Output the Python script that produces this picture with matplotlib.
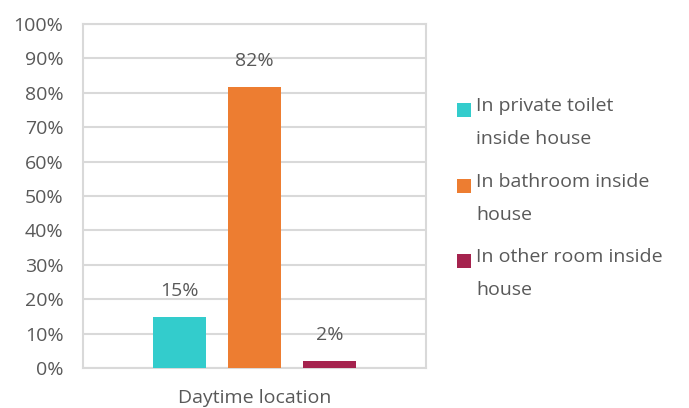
import matplotlib.pyplot as plt
from matplotlib.patches import Rectangle

# data
category = "Daytime location"
series = ["In private toilet\ninside house",
          "In bathroom inside\nhouse",
          "In other room inside\nhouse"]
values = [14.7, 81.6, 2.1]
colors = ["#33CCCC", "#ED7D31", "#A5234E"]
yticks = [0, 10, 20, 30, 40, 50, 60, 70, 80, 90, 100]

text_col = "#595959"
grid_col = "#D9D9D9"
fs = 14
plt.rcParams['font.family'] = ['Open Sans', 'DejaVu Sans']

W, H = 689, 408
fig = plt.figure(figsize=(W / 100, H / 100), dpi=100)
ax = fig.add_axes([83 / W, 1 - 368 / H, 343 / W, 344 / H])

pos = list(range(len(values)))
ax.bar(pos, values, width=0.71, color=colors, zorder=3)

for x, v in zip(pos, values):
    ax.annotate(f"{v:.0f}%", (x, v), xytext=(0, 26), textcoords='offset pixels',
                ha='center', va='center', fontsize=fs, color=text_col)

ax.set_xlim(-1.287, 3.287)
ax.set_ylim(0, 100)
ax.set_yticks(yticks)
ax.set_yticklabels([f"{t}%" for t in yticks])
ax.set_xticks([1])
ax.set_xticklabels([category])
ax.tick_params(length=0, labelsize=fs, labelcolor=text_col)
ax.tick_params(axis='y', pad=14)
ax.tick_params(axis='x', pad=15)
ax.grid(axis='y', color=grid_col, linewidth=1.5, zorder=0)
for s in ax.spines.values():
    s.set_color(grid_col)
    s.set_linewidth(1.5)

# legend, drawn by hand so the square sits on the first line
for i, (lab, c) in enumerate(zip(series, colors)):
    yc = 110 + i * 75.5
    fig.add_artist(Rectangle((457 / W, 1 - (yc + 7) / H), 14 / W, 14 / H,
                             transform=fig.transFigure, facecolor=c, edgecolor='none'))
    fig.text(476 / W, 1 - (yc - 13) / H, lab, ha='left', va='top', fontsize=fs,
             color=text_col, linespacing=2.1)

fig.savefig("out.png", dpi=100)
